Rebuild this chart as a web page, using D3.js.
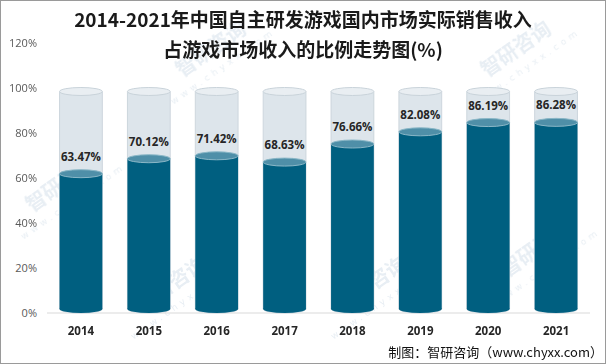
<!DOCTYPE html>
<html>
<head>
<meta charset="utf-8">
<script src="https://cdn.jsdelivr.net/npm/d3@7"></script>
<style>
  html, body { margin: 0; padding: 0; background: #fff; }
  svg { display: block; }
</style>
</head>
<body>
<svg id="chart" width="606" height="364"></svg>
<script>
// chart data
const years = ["2014", "2015", "2016", "2017", "2018", "2019", "2020", "2021"];
const shares = [63.47, 70.12, 71.42, 68.63, 76.66, 82.08, 86.19, 86.28];
const yTicks = [0, 20, 40, 60, 80, 100, 120];
const titleLines = ["2014-2021年中国自主研发游戏国内市场实际销售收入", "占游戏市场收入的比例走势图(%)"];
const sourceText = "制图：智研咨询（www.chyxx.com）";

const W = 606, H = 364;
const svg = d3.select("#chart");

const x = d3.scaleBand().domain(years).range([47, 590]).paddingInner(0.37).paddingOuter(0.185);
const y = d3.scaleLinear().domain([0, 120]).range([313, 43]);

// faint watermarks
const marks = [[215, 55], [520, 55], [65, 190], [175, 290], [375, 290], [540, 255]];
const wm = svg.append("g").attr("class", "watermark").attr("opacity", 0.12);
marks.forEach(([mx, my]) => {
  const g = wm.append("g").attr("transform", `translate(${mx},${my}) rotate(-35)`);
  g.append("text").attr("text-anchor", "middle")
    .attr("font-family", "Noto Sans CJK SC").attr("font-weight", 700).attr("font-size", 20)
    .attr("fill", "#3a6f9e").text("智研咨询");
  g.append("text").attr("text-anchor", "middle").attr("y", 17)
    .attr("font-family", "DejaVu Sans").attr("font-size", 9).attr("letter-spacing", 4)
    .attr("fill", "#3a6f9e").text("www.chyxx.com");
});

// y axis labels
const yAxis = svg.append("g").attr("transform", "translate(37,0)")
  .call(d3.axisLeft(y).tickValues(yTicks).tickFormat(d => d + "%").tickSize(0).tickPadding(0));
yAxis.select(".domain").remove();
yAxis.selectAll("text").attr("font-family", "Open Sans, DejaVu Sans").attr("font-size", 11).attr("fill", "#595959");

// baseline
svg.append("line").attr("x1", 47).attr("x2", 590).attr("y1", y(0)).attr("y2", y(0))
  .attr("stroke", "#d9d9d9").attr("stroke-width", 1);

// cylinders
const bw = x.bandwidth(), ry = 4, off = 3.5;
const cyl = svg.append("g").selectAll("g").data(years).join("g")
  .attr("transform", d => `translate(${x(d) + bw / 2},0)`);

const bottom = y(0) - ry;
// background (100%) cylinder
cyl.append("ellipse").attr("cx", 0).attr("cy", bottom).attr("rx", bw / 2).attr("ry", ry)
  .attr("fill", "#dde5eb").attr("stroke", "#cdd6dd");
cyl.append("rect").attr("x", -bw / 2).attr("width", bw)
  .attr("y", y(100) + off).attr("height", bottom - y(100) - off)
  .attr("fill", "#dde5eb");
cyl.append("line").attr("x1", -bw / 2).attr("x2", -bw / 2).attr("y1", y(100) + off).attr("y2", bottom).attr("stroke", "#cdd6dd");
cyl.append("line").attr("x1", bw / 2).attr("x2", bw / 2).attr("y1", y(100) + off).attr("y2", bottom).attr("stroke", "#cdd6dd");

// filled part
cyl.append("ellipse").attr("cx", 0).attr("cy", bottom).attr("rx", bw / 2).attr("ry", ry)
  .attr("fill", "#005f80");
cyl.append("rect").attr("x", -bw / 2).attr("width", bw)
  .attr("y", (d, i) => y(shares[i]) + off).attr("height", (d, i) => bottom - y(shares[i]) - off)
  .attr("fill", "#005f80");
cyl.append("ellipse").attr("cx", 0).attr("cy", (d, i) => y(shares[i]) + off).attr("rx", bw / 2).attr("ry", ry)
  .attr("fill", "#4f8fa8").attr("stroke", "#8ab7c7").attr("stroke-width", 1);

// top of background cylinder
cyl.append("ellipse").attr("cx", 0).attr("cy", y(100) + off).attr("rx", bw / 2).attr("ry", ry)
  .attr("fill", "#e9eef2").attr("stroke", "#c9d3da");

// value labels
cyl.append("text").attr("text-anchor", "middle")
  .attr("y", (d, i) => y(shares[i]) - 9.5)
  .attr("font-family", "Open Sans, DejaVu Sans").attr("font-weight", 700).attr("font-size", 11.5)
  .attr("fill", "#262626")
  .text((d, i) => shares[i].toFixed(2) + "%");

// x axis labels
svg.append("g").selectAll("text").data(years).join("text")
  .attr("x", d => x(d) + bw / 2).attr("y", 335).attr("text-anchor", "middle")
  .attr("font-family", "Open Sans, DejaVu Sans").attr("font-weight", 700).attr("font-size", 11.5)
  .attr("fill", "#262626").text(d => d);

// title
svg.append("g").selectAll("text").data(titleLines).join("text")
  .attr("x", W / 2).attr("y", (d, i) => 27 + i * 30).attr("text-anchor", "middle")
  .attr("font-family", "Noto Sans CJK SC").attr("font-weight", 700).attr("font-size", 19)
  .attr("fill", "#1a1a1a").text(d => d);

// source
svg.append("text").attr("x", 603).attr("y", 357).attr("text-anchor", "end")
  .attr("font-family", "Noto Sans CJK SC").attr("font-size", 13).attr("fill", "#111")
  .text(sourceText);

// border
svg.append("rect").attr("x", 0.5).attr("y", 0.5).attr("width", W - 1).attr("height", H - 1)
  .attr("fill", "none").attr("stroke", "#9a9a9a");
</script>
</body>
</html>
